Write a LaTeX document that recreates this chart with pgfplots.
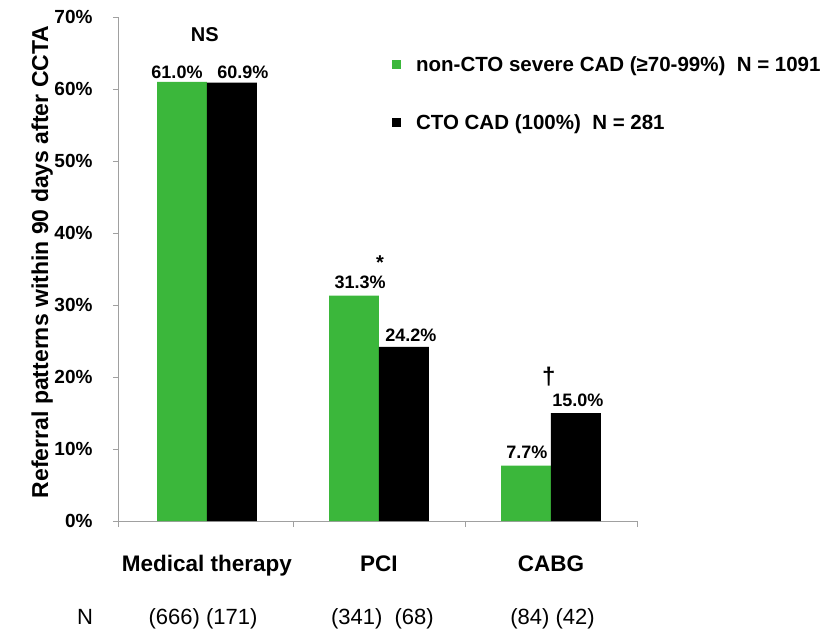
\documentclass[border=0pt]{standalone}
\usepackage{pgfplots}
\pgfplotsset{compat=1.18}
\usepackage{fontspec}
\setmainfont{Liberation Sans}
\definecolor{cgreen}{RGB}{59,183,59}
\definecolor{axgray}{RGB}{160,160,160}
\newcommand{\fs}[1]{\fontsize{#1bp}{#1bp}\selectfont}
\begin{document}
\begin{tikzpicture}
\begin{axis}[
  scale only axis, width=520bp, height=504bp,
  xmin=-0.517, xmax=2.506, ymin=0, ymax=70,
  ybar, bar width=0.29,
  clip=false,
  axis x line*=bottom, axis y line*=left,
  axis line style={axgray, line width=0.8bp, -},
  tick align=outside,
  xtick={0,1,2}, xticklabels={Medical therapy, PCI, CABG},
  major x tick style={draw=none},
  minor xtick={-0.517,0.5,1.5,2.5},
  minor x tick style={axgray, line width=0.8bp},
  minor tick length=6bp,
  major tick length=5bp,
  ytick={0,10,20,30,40,50,60,70},
  yticklabels={0\%,10\%,20\%,30\%,40\%,50\%,60\%,70\%},
  y tick style={axgray, line width=0.8bp},
  yticklabel style={font=\fs{19}\bfseries, xshift=-17bp},
  xticklabel style={font=\fs{22.5}\bfseries, anchor=base, yshift=-45.5bp},
  ylabel={Referral patterns within 90 days after CCTA},
  ylabel style={font=\fs{23}\bfseries, at={(axis description cs:-0.146,0.514)}, anchor=center, rotate=0},
  legend style={draw=none, fill=none, at={(0.521,0.930)}, anchor=north west,
    font=\fs{20.5}\bfseries, row sep=38bp, legend cell align=left,
    /tikz/every odd column/.append style={column sep=13bp}},
  legend image code/.code={\fill[#1] (0bp,-4.5bp) rectangle (9bp,4.5bp);},
]
\coordinate (O) at (rel axis cs:0,0);
\addplot[fill=cgreen, draw=none, bar shift=-0.145] coordinates {(0,61.0) (1,31.3) (2,7.7)};
\addlegendentry{non-CTO severe CAD (≥70-99\%)\ \ N = 1091}
\addplot[fill=black, draw=none, bar shift=0.145] coordinates {(0,60.9) (1,24.2) (2,15.0)};
\addlegendentry{CTO CAD (100\%)\ \ N = 281}
\begin{scope}[every node/.style={anchor=base, font=\fs{18}\bfseries, inner sep=0pt}]
\node at (axis cs:-0.174,61.46) {61.0\%};
\node at (axis cs:0.209,61.46) {60.9\%};
\node at (axis cs:0.890,32.29) {31.3\%};
\node at (axis cs:1.186,24.93) {24.2\%};
\node at (axis cs:1.860,8.68) {7.7\%};
\node at (axis cs:2.157,15.90) {15.0\%};
\node[font=\fs{20}\bfseries] at (axis cs:-0.012,66.53) {NS};
\node[font=\fs{20}\bfseries] at (axis cs:1.006,35.0) {*};
\node[font=\fs{24}\bfseries] at (axis cs:1.988,18.9) {†};
\end{scope}
\begin{scope}[every node/.style={anchor=base, font=\fs{22}, inner sep=0pt, yshift=-103.5bp}]
\node at (axis cs:-0.709,0) {N};
\node at (axis cs:-0.023,0) {(666) (171)};
\node at (axis cs:1.020,0) {(341)\ \ (68)};
\node at (axis cs:2.009,0) {(84) (42)};
\end{scope}
\end{axis}
\pgfresetboundingbox
\path ([shift={(-118bp,-112bp)}]O) rectangle ([shift={(722bp,521bp)}]O);
\end{tikzpicture}
\end{document}
